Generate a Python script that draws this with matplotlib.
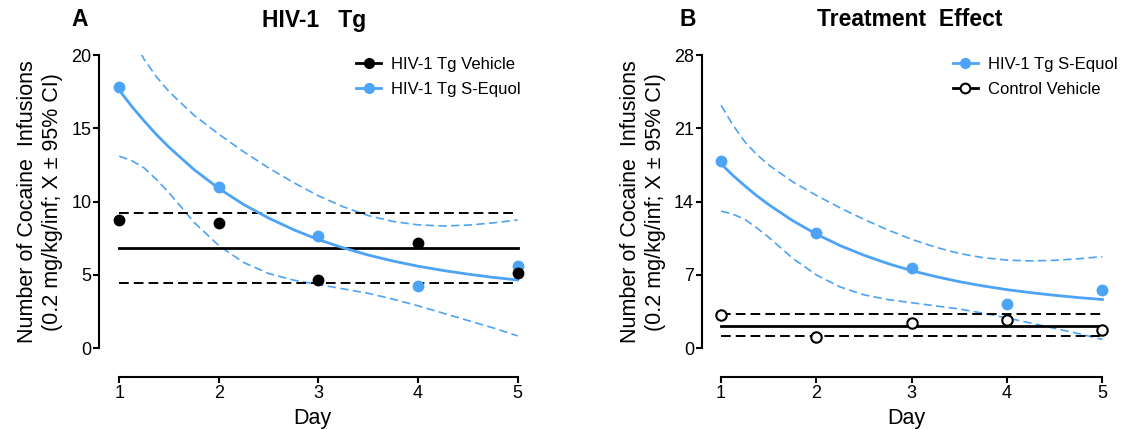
import matplotlib
matplotlib.use("Agg")
import matplotlib.pyplot as plt
from matplotlib.lines import Line2D

plt.rcParams['font.family'] = ['Liberation Sans', 'DejaVu Sans']

# ---------------- data ----------------
days = [1, 2, 3, 4, 5]
tg_vehicle = [8.75, 8.52, 4.66, 7.20, 5.11]
tg_vehicle_mean = 6.84
tg_vehicle_ci = [4.48, 9.20]

tg_equol = [17.84, 10.98, 7.65, 4.27, 5.60]

ctrl_vehicle = [3.18, 1.11, 2.39, 2.70, 1.75]
ctrl_vehicle_mean = 2.16
ctrl_vehicle_ci = [1.21, 3.25]

# fitted decay curve of S-Equol and its 95% CI bands
fit_x = [1.0, 1.125, 1.25, 1.375, 1.5, 1.75, 2.0, 2.25, 2.5, 2.75, 3.0, 3.25,
         3.5, 3.75, 4.0, 4.25, 4.5, 4.75, 5.0]
fit_y = [17.60, 16.50, 15.50, 14.56, 13.71, 12.19, 10.90, 9.80, 8.88, 8.09,
         7.41, 6.85, 6.36, 5.95, 5.60, 5.31, 5.06, 4.84, 4.66]
fit_upper = [23.2, 21.3, 19.7, 18.5, 17.5, 15.9, 14.6, 13.4, 12.3, 11.3,
             10.4, 9.65, 9.05, 8.65, 8.42, 8.34, 8.4, 8.55, 8.75]
fit_lower = [13.1, 12.8, 12.3, 11.5, 10.6, 8.6, 7.0, 5.85, 5.1, 4.65,
             4.35, 4.05, 3.75, 3.35, 2.9, 2.4, 1.9, 1.4, 0.85]

yticks_a = [0, 5, 10, 15, 20]
yticks_b = [0, 7, 14, 21, 28]

BLUE = '#4da3f5'
BLACK = '#000000'
DASH = (0, (5, 2.6))

fig = plt.figure(figsize=(11.35, 4.30), dpi=100)
axA = fig.add_axes([0.0872, 0.190, 0.4626 - 0.0872, 0.872 - 0.190])
axB = fig.add_axes([0.6182, 0.190, 0.978 - 0.6182, 0.872 - 0.190])


def style(ax, yt, ymax, xr, labx):
    ax.set_xlim(0.796, xr)
    ax.set_ylim(0, ymax)
    ax.set_yticks(yt)
    ax.set_xticks(days)
    for s in ['top', 'right']:
        ax.spines[s].set_visible(False)
    ax.spines['left'].set_linewidth(1.5)
    ax.spines['bottom'].set_linewidth(1.5)
    ax.spines['bottom'].set_position(('outward', 21))
    ax.spines['bottom'].set_bounds(1, 5)
    ax.spines['left'].set_bounds(0, ymax)
    ax.tick_params(axis='both', direction='out', length=4, width=1.5,
                   labelsize=13, pad=1.5)
    ax.set_xlabel('Day', fontsize=15.5, labelpad=4)
    ax.set_ylabel('Number of Cocaine  Infusions\n(0.2 mg/kg/inf; X \u00b1 95% CI)',
                  fontsize=15.5, linespacing=1.25)
    ax.yaxis.set_label_coords(labx, 0.5)


def draw_fit(ax):
    ax.plot(fit_x, fit_y, color=BLUE, lw=2.0, zorder=3)
    ax.plot(fit_x, fit_upper, color=BLUE, lw=1.2, ls=DASH, zorder=2)
    ax.plot(fit_x, fit_lower, color=BLUE, lw=1.2, ls=DASH, zorder=2)
    ax.plot(days, tg_equol, 'o', color=BLUE, ms=7.5, zorder=4, clip_on=False)


def draw_hline(ax, mean, ci):
    ax.plot([days[0], days[-1]], [mean, mean], color=BLACK, lw=2.0, zorder=3)
    for c in ci:
        ax.plot([days[0], days[-1]], [c, c], color=BLACK, lw=1.4, ls=DASH, zorder=3)


# ---------------- panel A ----------------
style(axA, yticks_a, 20, 5.075, -0.0845)
draw_hline(axA, tg_vehicle_mean, tg_vehicle_ci)
draw_fit(axA)
axA.plot(days, tg_vehicle, 'o', color=BLACK, ms=7.5, zorder=4, clip_on=False)
hA = [Line2D([], [], color=BLACK, lw=2, marker='o', ms=7),
      Line2D([], [], color=BLUE, lw=2, marker='o', ms=7)]
axA.legend(hA, ['HIV-1 Tg Vehicle', 'HIV-1 Tg S-Equol'], loc='upper right',
           bbox_to_anchor=(1.025, 1.045), frameon=False, fontsize=12,
           handlelength=1.5, handletextpad=0.6, labelspacing=0.6)

# ---------------- panel B ----------------
style(axB, yticks_b, 28, 5.08, -0.088)
draw_hline(axB, ctrl_vehicle_mean, ctrl_vehicle_ci)
draw_fit(axB)
axB.plot(days, ctrl_vehicle, 'o', mfc='white', mec=BLACK, mew=1.5, ms=7.5,
         zorder=5, clip_on=False)
hB = [Line2D([], [], color=BLUE, lw=2, marker='o', ms=7),
      Line2D([], [], color=BLACK, lw=2, marker='o', ms=7, mfc='white', mew=1.5)]
axB.legend(hB, ['HIV-1 Tg S-Equol', 'Control Vehicle'], loc='upper right',
           bbox_to_anchor=(1.055, 1.045), frameon=False, fontsize=12,
           handlelength=1.5, handletextpad=0.6, labelspacing=0.6)

# ---------------- titles ----------------
fig.text(80 / 1135, 1 - 20 / 430, 'A', fontsize=16.5, fontweight='bold',
         ha='center', va='center')
fig.text(314 / 1135, 1 - 20 / 430, 'HIV-1   Tg', fontsize=16.5, fontweight='bold',
         ha='center', va='center')
fig.text(688 / 1135, 1 - 20 / 430, 'B', fontsize=16.5, fontweight='bold',
         ha='center', va='center')
fig.text(910 / 1135, 1 - 20 / 430, 'Treatment  Effect', fontsize=16.5,
         fontweight='bold', ha='center', va='center')

fig.savefig('out.png', dpi=100)
